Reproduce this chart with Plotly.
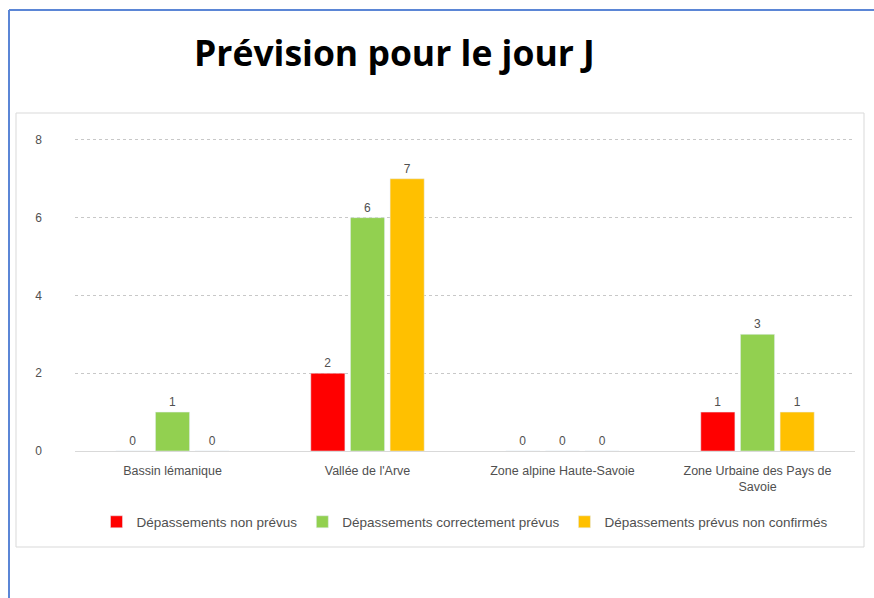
import plotly.graph_objects as go

categories = ["Bassin lémanique", "Vallée de l'Arve", "Zone alpine Haute-Savoie",
              "Zone Urbaine des Pays de<br>Savoie"]
series_names = ["Dépassements non prévus", "Dépassements correctement prévus",
                "Dépassements prévus non confirmés"]
non_prevus = [0, 2, 0, 1]
correctement_prevus = [1, 6, 0, 3]
prevus_non_confirmes = [0, 7, 0, 1]
colors = ["#FF0000", "#92D050", "#FFC000"]
y_ticks = [0, 2, 4, 6, 8]

W, H = 874, 598
L, R, T, B = 75, 855, 136, 451

def px(x):
    return (x - L) / (R - L)

def py(y):
    return (B - y) / (B - T)

fig = go.Figure()
for name, vals, col in zip(series_names, [non_prevus, correctement_prevus, prevus_non_confirmes], colors):
    fig.add_trace(go.Bar(
        x=categories, y=vals, name=name, marker_color=col,
        text=[str(v) for v in vals], textposition="outside",
        textfont=dict(size=12, color="#505050", family="Liberation Sans"),
        cliponaxis=False,
    ))

fig.update_layout(
    width=W, height=H,
    margin=dict(l=L, r=W - R, t=T, b=H - B),
    paper_bgcolor="white", plot_bgcolor="white",
    barmode="group", bargap=0.39, bargroupgap=0.14,
    font=dict(family="Liberation Sans", color="#505050"),
    showlegend=True,
    legend=dict(orientation="h", x=0.5, xanchor="center", y=py(522), yanchor="middle",
                font=dict(size=13.5, color="#505050"), traceorder="normal",
                itemwidth=30),
    xaxis=dict(showgrid=False, showline=False, ticks="",
               tickfont=dict(size=12.5, color="#505050"), tickangle=0,
               ticklabelstandoff=10),
    yaxis=dict(range=[0, 8.1], tickvals=y_ticks, showgrid=True,
               gridcolor="#C8C8C8", griddash="dot", gridwidth=1,
               zeroline=True, zerolinecolor="#D9D9D9", zerolinewidth=1,
               tickfont=dict(size=12, color="#505050"), ticks="",
               ticklabelstandoff=32),
    annotations=[dict(text="<b>Prévision pour le jour J</b>", xref="paper", yref="paper",
                      x=px(394), y=py(52), xanchor="center", yanchor="middle",
                      showarrow=False, font=dict(size=35.5, color="black", family="Open Sans"))],
    shapes=[
        dict(type="rect", xref="paper", yref="paper", x0=px(16), x1=px(864), y0=py(547), y1=py(113),
             line=dict(color="#D9D9D9", width=1), layer="below"),
        dict(type="line", xref="paper", yref="paper", x0=px(9), x1=px(9), y0=py(10), y1=py(600),
             line=dict(color="#5B86D6", width=2)),
        dict(type="line", xref="paper", yref="paper", x0=px(9), x1=px(876), y0=py(10), y1=py(10),
             line=dict(color="#5B86D6", width=2)),
    ],
)

fig.write_html("out.html", config={"displayModeBar": False},
               post_script="document.body.style.margin='0';document.body.style.overflow='hidden';")
